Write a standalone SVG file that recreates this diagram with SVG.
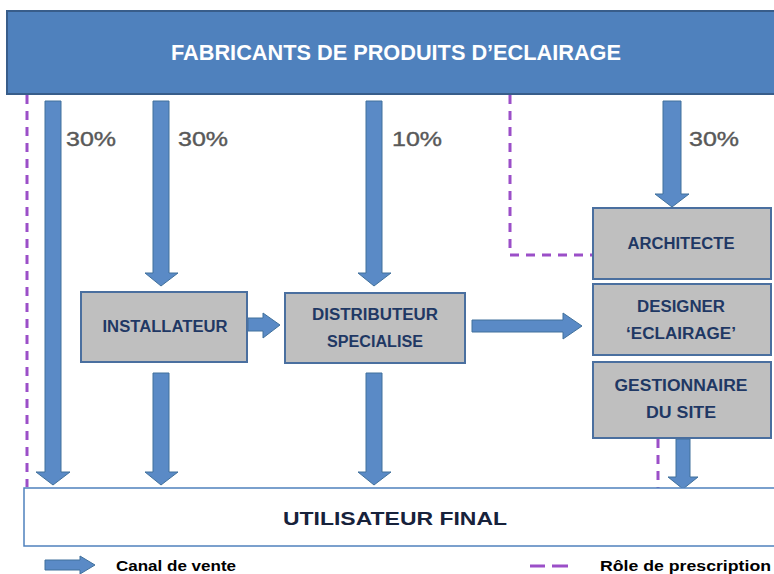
<svg xmlns="http://www.w3.org/2000/svg" width="774" height="574" viewBox="0 0 774 574">
<style>
.box{fill:#bfbfbf;stroke:#4a6f9f;stroke-width:2}
.lbl{font-family:"Liberation Sans",Arial,sans-serif;font-weight:bold;font-size:16px;fill:#1f3864;text-anchor:middle}
.pct{font-family:"Liberation Sans",Arial,sans-serif;font-size:21px;fill:#595959;stroke:#595959;stroke-width:0.4}
.arr{fill:#5a8ac6;stroke:#41719c;stroke-width:1}
.presc{fill:none;stroke:#9b4fc8;stroke-width:3;stroke-dasharray:9 7}
.leg{font-family:"Liberation Sans",Arial,sans-serif;font-weight:bold;font-size:15px;fill:#000}
</style>
<g id="fabricants">
<rect x="7" y="11" width="775" height="83" fill="#4f81bd" stroke="#385d8a" stroke-width="2"/>
<text x="396" y="60" font-family="Liberation Sans,Arial,sans-serif" font-weight="bold" font-size="22" fill="#fff" text-anchor="middle" textLength="450" lengthAdjust="spacingAndGlyphs">FABRICANTS DE PRODUITS D’ECLAIRAGE</text>
</g>
<g id="connectors">
<path class="presc" d="M27 95 V487"/>
<path class="presc" d="M510 95 V255 H593"/>
<path class="presc" d="M658 439 V488"/>
<polygon class="arr" points="45,101 61,101 61,472 70,472 53,485 36,472 45,472"/>
<polygon class="arr" points="153,101 169,101 169,273 178,273 161,286 145,273 153,273"/>
<polygon class="arr" points="366,101 382,101 382,273 391,273 374,286 358,273 366,273"/>
<polygon class="arr" points="663,101 681,101 681,194 689,194 672,207 655,194 663,194"/>
<polygon class="arr" points="248,318 263,318 263,313 280,325 263,338 263,331 248,331"/>
<polygon class="arr" points="472,320 563,320 563,313 582,326 563,339 563,332 472,332"/>
<polygon class="arr" points="153,373 169,373 169,472 178,472 161,485 145,472 153,472"/>
<polygon class="arr" points="366,373 382,373 382,472 391,472 374,485 358,472 366,472"/>
<polygon class="arr" points="676,439 690,439 690,477 698,477 683,489 668,477 676,477"/>
<text class="pct" x="66" y="146" textLength="50" lengthAdjust="spacingAndGlyphs">30%</text>
<text class="pct" x="178" y="146" textLength="50" lengthAdjust="spacingAndGlyphs">30%</text>
<text class="pct" x="392" y="146" textLength="50" lengthAdjust="spacingAndGlyphs">10%</text>
<text class="pct" x="689" y="146" textLength="50" lengthAdjust="spacingAndGlyphs">30%</text>
</g>
<g id="installateur">
<rect class="box" x="81" y="292" width="166" height="70"/>
<text class="lbl" x="165" y="332" textLength="125" lengthAdjust="spacingAndGlyphs">INSTALLATEUR</text>
</g>
<g id="distributeur">
<rect class="box" x="285" y="293" width="180" height="70"/>
<text class="lbl" x="375" y="320" textLength="126" lengthAdjust="spacingAndGlyphs">DISTRIBUTEUR</text>
<text class="lbl" x="375" y="347" textLength="96" lengthAdjust="spacingAndGlyphs">SPECIALISE</text>
</g>
<g id="architecte">
<rect class="box" x="593" y="208" width="178" height="71"/>
<text class="lbl" x="681" y="249" textLength="107" lengthAdjust="spacingAndGlyphs">ARCHITECTE</text>
</g>
<g id="designer">
<rect class="box" x="593" y="284" width="178" height="71"/>
<text class="lbl" x="681" y="312" textLength="88" lengthAdjust="spacingAndGlyphs">DESIGNER</text>
<text class="lbl" x="681" y="339" textLength="110" lengthAdjust="spacingAndGlyphs">‘ECLAIRAGE’</text>
</g>
<g id="gestionnaire">
<rect class="box" x="593" y="362" width="178" height="76"/>
<text class="lbl" x="681" y="391" textLength="133" lengthAdjust="spacingAndGlyphs">GESTIONNAIRE</text>
<text class="lbl" x="681" y="418" textLength="70" lengthAdjust="spacingAndGlyphs">DU SITE</text>
</g>
<g id="utilisateur">
<rect x="24" y="488" width="760" height="58" fill="#fff" stroke="#4f81bd" stroke-width="1.5"/>
<text class="lbl" x="395" y="525" textLength="224" lengthAdjust="spacingAndGlyphs" style="font-size:19px;fill:#17223b">UTILISATEUR FINAL</text>
</g>
<g id="legend">
<polygon class="arr" points="45,560 80,560 80,556 95,565 80,574 80,570 45,570"/>
<text class="leg" x="116" y="571" textLength="120" lengthAdjust="spacingAndGlyphs">Canal de vente</text>
<path d="M530 566 H545 M552 566 H568" stroke="#9b4fc8" stroke-width="3"/>
<text class="leg" x="600" y="571" textLength="171" lengthAdjust="spacingAndGlyphs">Rôle de prescription</text>
</g>
</svg>
